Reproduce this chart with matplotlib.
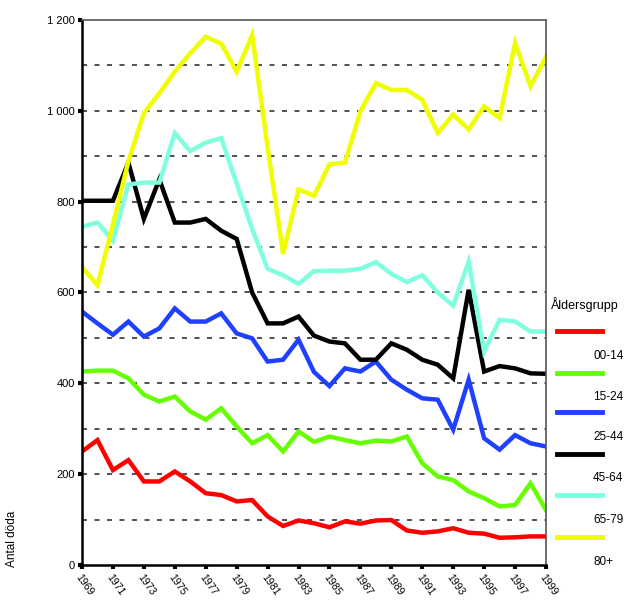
import numpy as np
import matplotlib
matplotlib.use("Agg")
import matplotlib.pyplot as plt

plt.rcParams['font.family'] = ['Liberation Sans', 'DejaVu Sans']

# -----------------------------
# Data
# -----------------------------
years = list(range(1969, 2000))

age_00_14 = [250, 275, 209, 231, 184, 184, 206, 184, 158, 154, 140, 143, 107, 86, 98, 92,
             83, 96, 91, 98, 99, 76, 71, 74, 81, 71, 69, 60, 61, 63, 63]
age_15_24 = [426, 428, 428, 411, 375, 360, 371, 338, 320, 345, 305, 268, 286, 250, 294, 271,
             283, 275, 268, 274, 272, 283, 224, 195, 187, 162, 147, 129, 132, 180, 121]
age_25_44 = [558, 532, 507, 536, 503, 521, 565, 536, 536, 554, 510, 499, 448, 452, 496, 425,
             394, 433, 426, 448, 408, 386, 367, 364, 298, 408, 279, 254, 286, 268, 261]
age_45_64 = [802, 802, 802, 886, 762, 849, 754, 754, 762, 736, 718, 600, 532, 532, 547, 505,
             492, 488, 452, 452, 488, 474, 452, 441, 411, 606, 426, 438, 433, 422, 421]
age_65_79 = [745, 754, 714, 838, 842, 842, 951, 911, 930, 940, 840, 740, 652, 638, 619, 647,
             648, 648, 652, 667, 641, 623, 638, 600, 571, 668, 470, 540, 536, 514, 514]
age_80 = [656, 616, 750, 889, 995, 1039, 1086, 1127, 1163, 1148, 1086, 1167, 920, 685, 827, 813,
          882, 886, 999, 1061, 1046, 1046, 1024, 951, 992, 959, 1010, 984, 1149, 1054, 1119]

groups = ["00-14", "15-24", "25-44", "45-64", "65-79", "80+"]
series = [age_00_14, age_15_24, age_25_44, age_45_64, age_65_79, age_80]
colors = ["#FF0000", "#66FF00", "#2040FF", "#000000", "#80FFE0", "#F0FF00"]

# -----------------------------
# Plot
# -----------------------------
fig = plt.figure(figsize=(6.25, 6.01), dpi=100)
ax = fig.add_axes([82 / 625, 1 - 565 / 601, (546 - 82) / 625, (565 - 20) / 601])

for vals, col in zip(series, colors):
    ax.plot(years, vals, color=col, lw=3.2, solid_joinstyle='miter')

ax.set_xlim(1969, 1999)
ax.set_ylim(0, 1200)

for v in range(100, 1200, 100):
    ax.axhline(v, color='#333333', lw=1.2, ls=(0, (3, 4.5)), zorder=0)

ax.set_yticks(range(0, 1201, 200))
ax.set_yticklabels(["0", "200", "400", "600", "800", "1 000", "1 200"], fontsize=8)
ax.set_xticks(years[::2])
ax.set_xticklabels([str(y) for y in years[::2]], fontsize=7.5, rotation=-55,
                   ha='left', va='top', rotation_mode='anchor')
ax.tick_params(axis='both', length=3, width=3, color='black', direction='out', pad=2)

for side in ['left', 'bottom']:
    ax.spines[side].set_linewidth(1.8)
    ax.spines[side].set_color('black')
for side in ['top', 'right']:
    ax.spines[side].set_linewidth(1.2)
    ax.spines[side].set_color('#555555')

fig.text(12 / 625, 1 - 567 / 601, "Antal döda", rotation=90, fontsize=8.5,
         ha='center', va='bottom')

# -----------------------------
# Legend (drawn by hand, like the original)
# -----------------------------
fig.text(551 / 625, 1 - 305 / 601, "Åldersgrupp", fontsize=9, ha='left', va='center')
line_y = [331, 373, 412, 454, 495, 537]
text_y = [356, 397, 437, 478, 520, 562]
for name, col, ly, ty in zip(groups, colors, line_y, text_y):
    fig.add_artist(plt.Line2D([557 / 625, 602 / 625], [1 - ly / 601, 1 - ly / 601],
                              color=col, lw=3.5))
    fig.text(593 / 625, 1 - ty / 601, name, fontsize=8.5, ha='left', va='center')

plt.savefig("out.png", dpi=100)
plt.close()
